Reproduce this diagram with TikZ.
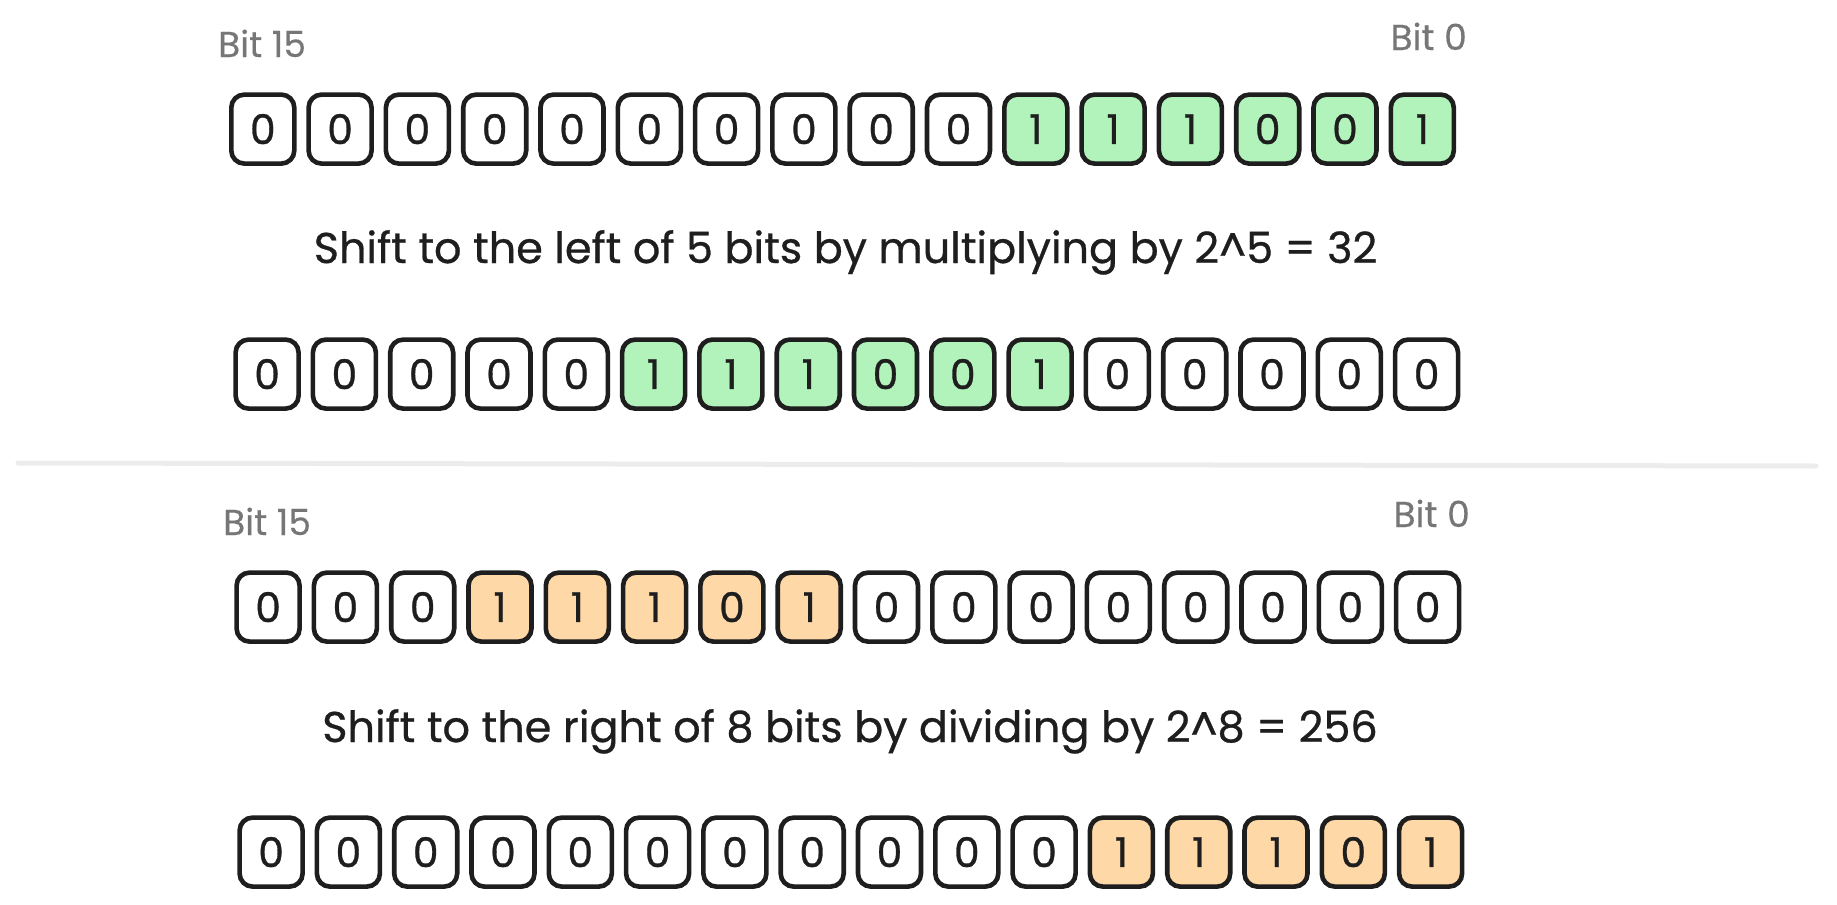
\documentclass[tikz,border=0pt]{standalone}
\usepackage{fontspec}
\setmainfont{Poppins}
\newfontfamily\hand[FakeBold=0.7]{Poppins}
\newfontfamily\handlight[FakeBold=0.3]{Poppins}
\definecolor{ink}{HTML}{1E1E1E}
\definecolor{cg}{HTML}{B2F2BB}
\definecolor{co}{HTML}{FFD8A8}
\definecolor{cw}{HTML}{FFFFFF}
\definecolor{labgray}{HTML}{767676}
\definecolor{sepgray}{HTML}{ECECEC}
\tikzset{
  bitbox/.style={draw=ink, line width=4.6pt, rounded corners=13pt,
    minimum width=63pt, minimum height=69pt, inner sep=0pt, anchor=north west,
    text=ink, font=\hand\fontsize{41}{44}\selectfont},
  bitlabel/.style={inner sep=0pt, text=labgray, font=\handlight\fontsize{36}{40}\selectfont},
  caption/.style={inner sep=0pt, text=ink, anchor=base, font=\hand\fontsize{43}{48}\selectfont},
  sepline/.style={draw=sepgray, line width=5pt, line cap=round}
}
\begin{document}
\begin{tikzpicture}[x=1pt,y=-1pt]
\useasboundingbox (0,0) rectangle (1837,905);
% row 1
\foreach \d/\f [count=\i from 0] in {0/cw,0/cw,0/cw,0/cw,0/cw,0/cw,0/cw,0/cw,0/cw,0/cw,1/cg,1/cg,1/cg,0/cg,0/cg,1/cg}
  \node[bitbox, fill=\f] (ra\i) at ({229+\i*77.3},92.3) {\d};
% row 2
\foreach \d/\f [count=\i from 0] in {0/cw,0/cw,0/cw,0/cw,0/cw,1/cg,1/cg,1/cg,0/cg,0/cg,1/cg,0/cw,0/cw,0/cw,0/cw,0/cw}
  \node[bitbox, fill=\f] (rb\i) at ({233.3+\i*77.3},337.3) {\d};
% row 3
\foreach \d/\f [count=\i from 0] in {0/cw,0/cw,0/cw,1/co,1/co,1/co,0/co,1/co,0/cw,0/cw,0/cw,0/cw,0/cw,0/cw,0/cw,0/cw}
  \node[bitbox, fill=\f] (rc\i) at ({234.3+\i*77.3},570.3) {\d};
% row 4
\foreach \d/\f [count=\i from 0] in {0/cw,0/cw,0/cw,0/cw,0/cw,0/cw,0/cw,0/cw,0/cw,0/cw,0/cw,1/co,1/co,1/co,0/co,1/co}
  \node[bitbox, fill=\f] (rd\i) at ({237.3+\i*77.3},815.3) {\d};
% labels
\node[bitlabel, anchor=base west] (hiA) at (218,57) {Bit 15};
\node[bitlabel, anchor=base east] (loA) at (1467,50) {Bit 0};
\node[bitlabel, anchor=base west] (hiB) at (223,535) {Bit 15};
\node[bitlabel, anchor=base east] (loB) at (1470,527) {Bit 0};
\node[caption] (capA) at (845.5,263) {Shift to the left of 5 bits by multiplying by 2\^{}5 = 32};
\node[caption] (capB) at (850,742) {Shift to the right of 8 bits by dividing by 2\^{}8 = 256};
% separator
\coordinate (sepL) at (18,463);
\coordinate (sepR) at (1816,466);
\draw[sepline] (sepL) -- (sepR);
\end{tikzpicture}
\end{document}
